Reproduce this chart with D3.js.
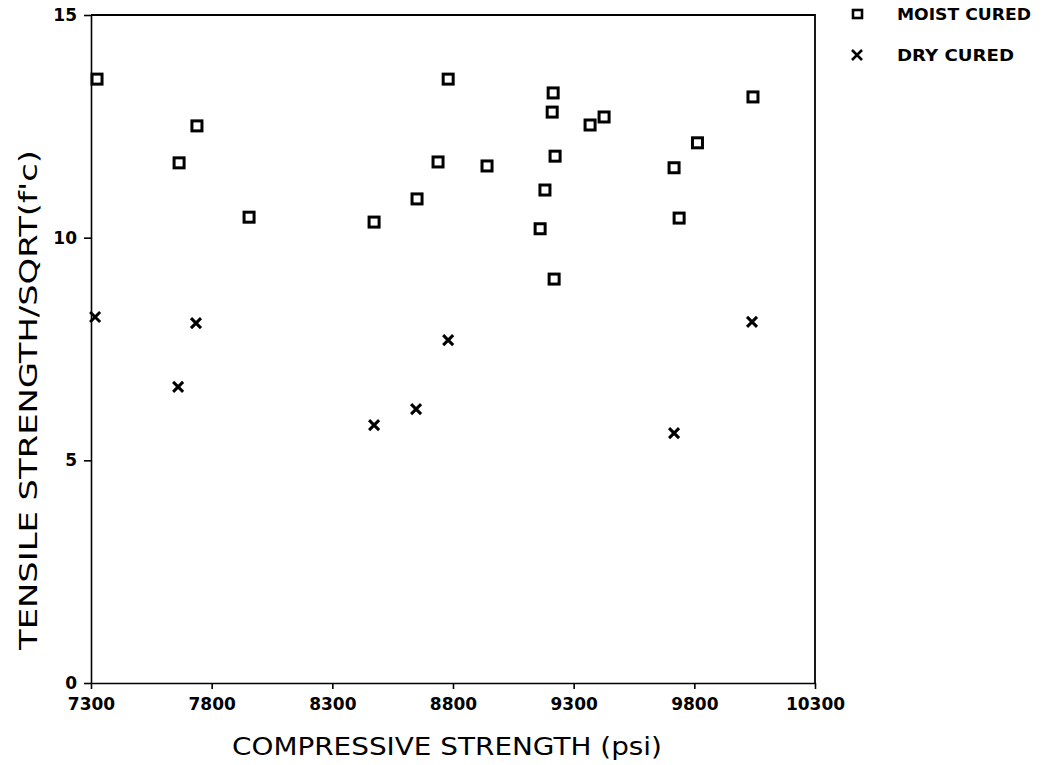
<!DOCTYPE html>
<html>
<head>
<meta charset="utf-8">
<script src="https://cdn.jsdelivr.net/npm/d3@7"></script>
<style>
  body { margin: 0; background: #fff; }
  svg text { fill: #000; }
  .tick text { font-family: "DejaVu Sans", sans-serif; font-weight: bold; font-size: 17px; }
  .axis path, .axis line { stroke: #000; stroke-width: 1.6px; }
  .title { font-family: "DejaVu Sans", sans-serif; font-size: 25px; }
  .legend { font-family: "DejaVu Sans", sans-serif; font-weight: bold; font-size: 15px; }
</style>
</head>
<body>
<svg id="chart" width="1048" height="765"></svg>
<script>
// moist cured samples
var moistX = [7325, 7739, 7665, 7955, 8780, 9215, 9211, 9368, 9426, 9813, 8738,
              8941, 9223, 9716, 8651, 9181, 8473, 9161, 9737, 9219, 10043];
var moistY = [13.56, 12.51, 11.68, 10.46, 13.56, 13.25, 12.82, 12.53, 12.71, 12.13, 11.70,
              11.61, 11.83, 11.57, 10.87, 11.07, 10.35, 10.20, 10.44, 9.07, 13.16];
// dry cured samples
var dryX = [7317, 7735, 7661, 8780, 8647, 8473, 9716, 10039];
var dryY = [8.22, 8.08, 6.65, 7.70, 6.15, 5.79, 5.61, 8.11];

var xTicks = [7300, 7800, 8300, 8800, 9300, 9800, 10300];
var yTicks = [0, 5, 10, 15];

(function() {
  var svg = d3.select('#chart');
  var pLeft = 91, pRight = 815, pTop = 15, pBottom = 683;

  var x = d3.scaleLinear().domain([7300, 10300]).range([pLeft, pRight]);
  var y = d3.scaleLinear().domain([0, 15]).range([pBottom, pTop]);

  // frame top and right
  svg.append('path')
    .attr('d', 'M' + pLeft + ',' + pTop + 'H' + pRight + 'V' + pBottom)
    .attr('fill', 'none')
    .attr('stroke', '#000')
    .attr('stroke-width', 1.8);

  svg.append('g')
    .attr('class', 'axis')
    .attr('transform', 'translate(0,' + pBottom + ')')
    .call(d3.axisBottom(x).tickValues(xTicks).tickSize(6).tickSizeOuter(0).tickPadding(9).tickFormat(d3.format('d')));

  svg.append('g')
    .attr('class', 'axis')
    .attr('transform', 'translate(' + pLeft + ',0)')
    .call(d3.axisLeft(y).tickValues(yTicks).tickSize(7).tickSizeOuter(0).tickPadding(7).tickFormat(d3.format('d')));

  // axis titles
  svg.append('text')
    .attr('class', 'title')
    .attr('x', (pLeft + pRight) / 2 - 6)
    .attr('y', 755)
    .attr('text-anchor', 'middle')
    .attr('textLength', 430)
    .attr('lengthAdjust', 'spacingAndGlyphs')
    .text('COMPRESSIVE STRENGTH (psi)');

  svg.append('text')
    .attr('class', 'title')
    .attr('transform', 'translate(37,400) rotate(-90)')
    .attr('text-anchor', 'middle')
    .attr('textLength', 500)
    .attr('lengthAdjust', 'spacingAndGlyphs')
    .text("TENSILE STRENGTH/SQRT(f'c)");

  // square markers
  var sq = 10;
  svg.append('g').selectAll('rect')
    .data(moistX.map(function(d, i) { return [d, moistY[i]]; }))
    .enter().append('rect')
    .attr('x', function(d) { return x(d[0]) - sq / 2; })
    .attr('y', function(d) { return y(d[1]) - sq / 2; })
    .attr('width', sq)
    .attr('height', sq)
    .attr('fill', 'none')
    .attr('stroke', '#000')
    .attr('stroke-width', 3);

  // cross markers
  var cr = 5;
  var crossPath = function(cx, cy) {
    return 'M' + (cx - cr) + ',' + (cy - cr) + 'L' + (cx + cr) + ',' + (cy + cr) +
           'M' + (cx - cr) + ',' + (cy + cr) + 'L' + (cx + cr) + ',' + (cy - cr);
  };
  svg.append('g').selectAll('path')
    .data(dryX.map(function(d, i) { return [d, dryY[i]]; }))
    .enter().append('path')
    .attr('d', function(d) { return crossPath(x(d[0]), y(d[1])); })
    .attr('stroke', '#000')
    .attr('stroke-width', 3);

  // legend
  svg.append('rect')
    .attr('x', 853).attr('y', 10).attr('width', 9).attr('height', 8)
    .attr('fill', 'none').attr('stroke', '#000').attr('stroke-width', 2.6);
  svg.append('text').attr('class', 'legend').attr('x', 897).attr('y', 20)
    .attr('textLength', 134).attr('lengthAdjust', 'spacingAndGlyphs').text('MOIST CURED');

  svg.append('path')
    .attr('d', crossPath(857, 55))
    .attr('stroke', '#000').attr('stroke-width', 2.6);
  svg.append('text').attr('class', 'legend').attr('x', 897).attr('y', 61)
    .attr('textLength', 117).attr('lengthAdjust', 'spacingAndGlyphs').text('DRY CURED');
})();
</script>
</body>
</html>
